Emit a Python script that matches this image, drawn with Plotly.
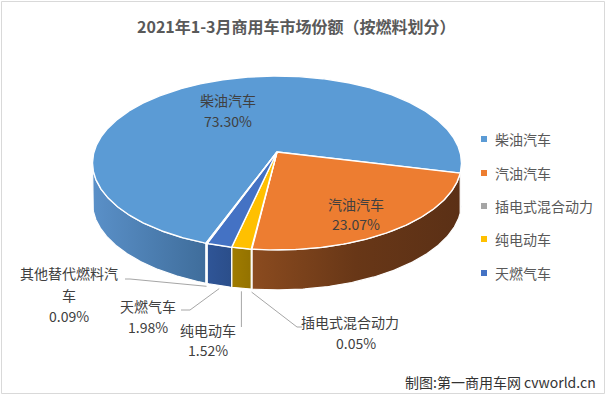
import numpy as np
import plotly.graph_objects as go

# ---------------- data ----------------
categories = ["柴油汽车", "汽油汽车", "插电式混合动力", "纯电动车", "天燃气车", "其他替代燃料汽车"]
shares = [73.30, 23.07, 0.05, 1.52, 1.98, 0.09]
legend_items = ["柴油汽车", "汽油汽车", "插电式混合动力", "纯电动车", "天燃气车"]
title_text = "2021年1-3月商用车市场份额（按燃料划分）"
source_text = "制图:第一商用车网 cvworld.cn"

# ---------------- styles ----------------
top_colors = ["#5B9BD5", "#ED7D31", "#A5A5A5", "#FFC000", "#4472C4", "#70AD47"]
side_scales = [
    [[0, "#5A90C8"], [1, "#3F6D9B"]],
    [[0, "#8B4B1F"], [0.5, "#683717"], [1, "#5B3016"]],
    [[0, "#7F7F7F"], [1, "#707070"]],
    [[0, "#A07C00"], [1, "#937200"]],
    [[0, "#2F5597"], [1, "#2B4E8A"]],
    [[0, "#4E7F35"], [1, "#4E7F35"]],
]
FONT = "Noto Sans CJK SC"
W, H = 606, 395

# 3D pie geometry (screen pixels)
CX, CY = 277.0, 152.0      # projected centre of top face
A, B = 183.0, 85.6         # horizontal / vertical radii
K = 0.126                  # perspective factor
DEPTH = 40.0               # thickness of the pie
START = 200.0              # first slice start, degrees clockwise from 12 o'clock


def proj(phi_deg, dz=0.0):
    p = np.radians(phi_deg)
    X, Z = np.sin(p), np.cos(p)
    d = 1 + K * Z
    return CX + A * X / d, CY - B * Z / d + dz


def arc(a, b, dz=0.0):
    n = max(2, int(abs(b - a) * 2) + 1)
    phis = np.linspace(a, b, n)
    xs, ys = proj(phis, dz)
    return list(xs), list(ys)


total = sum(shares)
angles = [s / total * 360.0 for s in shares]
starts = list(np.cumsum([START] + angles[:-1]))

vis_lo = np.degrees(np.arccos(-K))
vis_hi = 360.0 - vis_lo

fig = go.Figure()

# ---- side walls ----
for i, name in enumerate(categories):
    a, b = starts[i], starts[i] + angles[i]
    pieces = []
    for shift in (-360.0, 0.0, 360.0):
        lo, hi = max(a, vis_lo + shift), min(b, vis_hi + shift)
        if hi > lo:
            pieces.append((lo, hi))
    if not pieces:
        continue
    main = max(pieces, key=lambda p: p[1] - p[0])
    mx, _ = arc(main[0], main[1])
    g0, g1 = min(mx), max(mx)
    for lo, hi in pieces:
        tx, ty = arc(lo, hi)
        bx, by = arc(hi, lo, DEPTH)
        xs = tx + bx + [tx[0]]
        ys = ty + by + [ty[0]]
        fig.add_trace(go.Scatter(
            x=xs, y=ys, mode="lines", fill="toself",
            fillgradient=dict(type="horizontal", colorscale=side_scales[i],
                              start=g0, stop=g1 if g1 > g0 else g0 + 1),
            line=dict(color="white", width=1.2),
            hoverinfo="skip", showlegend=False, name=name))

# ---- top faces ----
for i, name in enumerate(categories):
    a, b = starts[i], starts[i] + angles[i]
    ax_, ay_ = arc(a, b)
    xs = [CX] + ax_ + [CX]
    ys = [CY] + ay_ + [CY]
    fig.add_trace(go.Scatter(
        x=xs, y=ys, mode="lines", fill="toself", fillcolor=top_colors[i],
        line=dict(color="white", width=1.4),
        hoverinfo="skip", showlegend=False, name=name))

# ---- data labels ----
label_lines = {
    "柴油汽车": [(228, 100), (228, 121)],
    "汽油汽车": [(356, 204), (356, 224)],
    "插电式混合动力": [(350, 322), (356, 343)],
    "纯电动车": [(208, 330), (208, 350)],
    "天燃气车": [(148, 306), (148, 327)],
    "其他替代燃料汽车": [(69, 273), (69, 295), (69, 316)],
}
annotations = []
for name, share in zip(categories, shares):
    pos = label_lines[name]
    if len(pos) == 3:
        texts = [name[:7], name[7:], f"{share:.2f}%"]
    else:
        texts = [name, f"{share:.2f}%"]
    for (lx, ly), t in zip(pos, texts):
        annotations.append(dict(x=lx, y=ly, xref="x", yref="y", text=t,
                                showarrow=False, xanchor="center", yanchor="middle",
                                font=dict(family=FONT, size=14, color="#404040")))

# ---- leader lines ----
leader_label_pts = {
    "插电式混合动力": [(297, 327), (302, 327)],
    "纯电动车": [(241, 327)],
    "天燃气车": [(190, 310), (181, 310)],
    "其他替代燃料汽车": [(130, 279), (125, 279)],
}
shapes = []
for i, name in enumerate(categories):
    if name not in leader_label_pts:
        continue
    mid = starts[i] + angles[i] / 2
    ax0, ay0 = proj(mid, DEPTH + 3)
    pts = [(ax0, ay0)] + leader_label_pts[name]
    if name == "纯电动车":
        pts = [(ax0, ay0), (ax0, 327)]
    path = "M " + " L ".join(f"{px:.1f},{py:.1f}" for px, py in pts)
    shapes.append(dict(type="path", path=path, xref="x", yref="y",
                       line=dict(color="#A6A6A6", width=1)))

# ---- legend (manual) ----
legend_y = [139, 173, 206, 239, 273]
fig.add_trace(go.Scatter(
    x=[484] * len(legend_items), y=legend_y, mode="markers",
    marker=dict(symbol="square", size=6,
                color=[top_colors[categories.index(n)] for n in legend_items]),
    hoverinfo="skip", showlegend=False))
for n, ly in zip(legend_items, legend_y):
    annotations.append(dict(x=493, y=ly, xref="x", yref="y", text=n, showarrow=False,
                            xanchor="left", yanchor="middle",
                            font=dict(family=FONT, size=14, color="#595959")))

# ---- title & source ----
annotations.append(dict(x=296.5, y=26, xref="x", yref="y", text=f"<b>{title_text}</b>",
                        showarrow=False, xanchor="center", yanchor="middle",
                        font=dict(family=FONT, size=16, color="#595959")))
annotations.append(dict(x=598, y=382, xref="x", yref="y", text=source_text,
                        showarrow=False, xanchor="right", yanchor="middle",
                        font=dict(family=FONT, size=14, color="#333333")))

# ---- frame ----
shapes.append(dict(type="rect", xref="x", yref="y", x0=1.5, y0=1.5, x1=604.5, y1=393.5,
                   line=dict(color="#D9D9D9", width=1), fillcolor="rgba(0,0,0,0)"))

fig.update_layout(
    width=W, height=H, margin=dict(l=0, r=0, t=0, b=0),
    paper_bgcolor="white", plot_bgcolor="white", showlegend=False,
    xaxis=dict(range=[0, W], visible=False, fixedrange=True),
    yaxis=dict(range=[H, 0], visible=False, fixedrange=True),
    font=dict(family=FONT),
    annotations=annotations, shapes=shapes,
)

fig.write_html(
    "out.html",
    config={"displayModeBar": False},
    post_script="document.body.style.margin='0';document.body.style.overflow='hidden';",
)
